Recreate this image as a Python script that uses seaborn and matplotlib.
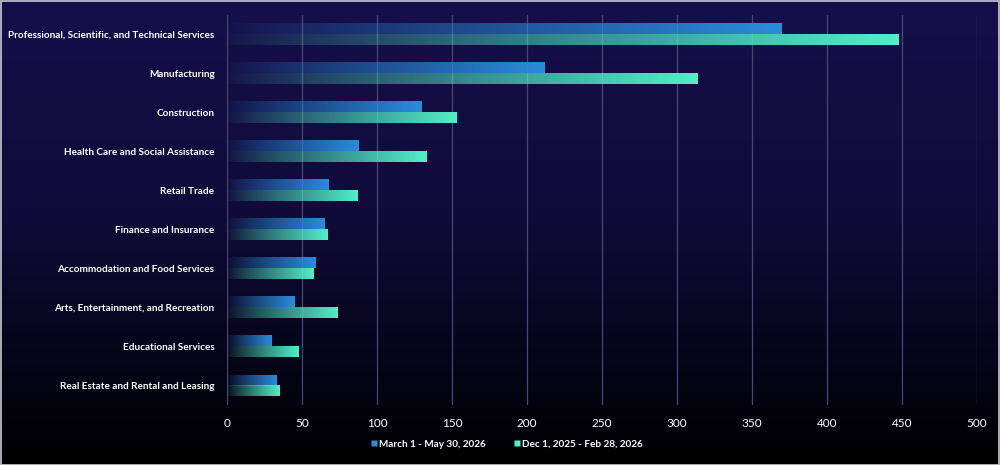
import numpy as np
import pandas as pd
import matplotlib
matplotlib.use("Agg")
import matplotlib.pyplot as plt
import seaborn as sns
from matplotlib.colors import to_rgb, LinearSegmentedColormap
from matplotlib.patches import Rectangle
from matplotlib.lines import Line2D

categories = [
    "Professional, Scientific, and Technical Services",
    "Manufacturing",
    "Construction",
    "Health Care and Social Assistance",
    "Retail Trade",
    "Finance and Insurance",
    "Accommodation and Food Services",
    "Arts, Entertainment, and Recreation",
    "Educational Services",
    "Real Estate and Rental and Leasing",
]
march_may = [370, 212, 130, 88, 68, 65, 59, 45, 30, 33]
dec_feb = [448, 314, 153, 133, 87, 67, 58, 74, 48, 35]
series_names = ["March 1 - May 30, 2026", "Dec 1, 2025 - Feb 28, 2026"]
x_ticks = [0, 50, 100, 150, 200, 250, 300, 350, 400, 450, 500]

colors = ["#2a8ddb", "#52f0c9"]

df = pd.DataFrame({
    "Industry": categories * 2,
    "Value": march_may + dec_feb,
    "Period": [series_names[0]] * len(categories) + [series_names[1]] * len(categories),
})

sns.set_style("dark")
plt.rcParams["font.family"] = ["Lato", "DejaVu Sans"]

fig = plt.figure(figsize=(10, 4.65), dpi=100)
fig.patch.set_facecolor("black")

# background gradient
bg = fig.add_axes([0, 0, 1, 1], zorder=0)
bg_cmap = LinearSegmentedColormap.from_list(
    "bg", [(0.0, "#160f4b"), (0.45, "#100b3a"), (0.8, "#050416"), (1.0, "#000000")])
grad = np.linspace(0, 1, 256)[:, None]
bg.imshow(grad, aspect="auto", cmap=bg_cmap, extent=[0, 1, 0, 1], origin="upper")
bg.set_axis_off()

ax = fig.add_axes([0.227, 0.129, 0.75, 0.839], zorder=1)
ax.patch.set_alpha(0)
sns.barplot(data=df, y="Industry", x="Value", hue="Period", orient="h",
            width=0.52, palette=colors, ax=ax, legend=False, saturation=1)

ax.set_xlim(0, 500)
ylim = ax.get_ylim()

t = np.linspace(0, 1, 200)
alpha = np.clip(t, 0, 1) ** 0.9 * 0.97 + 0.03
for cont, col in zip(ax.containers, colors):
    rgb = to_rgb(col)
    for p in cont.patches:
        x0, y0 = p.get_x(), p.get_y()
        w, h = p.get_width(), p.get_height()
        img = np.zeros((1, len(t), 4))
        img[..., :3] = rgb
        img[..., 3] = alpha
        p.set_facecolor("none")
        p.set_edgecolor("none")
        ax.imshow(img, extent=[x0, x0 + w, y0 + h, y0], aspect="auto",
                  interpolation="bilinear", zorder=3)

ax.set_xlim(0, 500)
ax.set_ylim(ylim)
ax.set_aspect("auto")

ax.set_xticks(x_ticks)
ax.set_xticklabels([str(v) for v in x_ticks], color="white", fontsize=8.5)
ax.set_yticks(range(len(categories)))
ax.set_yticklabels(categories, color="white", fontsize=7.2, fontweight="bold")
ax.tick_params(axis="both", length=0)
ax.tick_params(axis="y", pad=9)
ax.tick_params(axis="x", pad=9)
ax.set_xlabel("")
ax.set_ylabel("")
for s in ax.spines.values():
    s.set_visible(False)
ax.grid(False)
for v in x_ticks:
    ax.axvline(v, color="#4a4775", lw=0.9, zorder=1)

handles = [Line2D([0], [0], marker="s", linestyle="none", markersize=4,
                  markerfacecolor=c, markeredgecolor="none") for c in colors]
leg = fig.legend(handles, series_names, loc="center", bbox_to_anchor=(0.506, 0.045),
                 ncol=2, frameon=False, handletextpad=0.05, handlelength=1.0,
                 columnspacing=2.6, prop={"weight": "bold", "size": 7.2})
for txt in leg.get_texts():
    txt.set_color("white")

fig.patches.append(Rectangle((0.001, 0.001), 0.998, 0.997, transform=fig.transFigure,
                             fill=False, edgecolor="#c9c9d2", lw=1.2, zorder=10))

fig.savefig("out.png", dpi=100, facecolor=fig.get_facecolor())
